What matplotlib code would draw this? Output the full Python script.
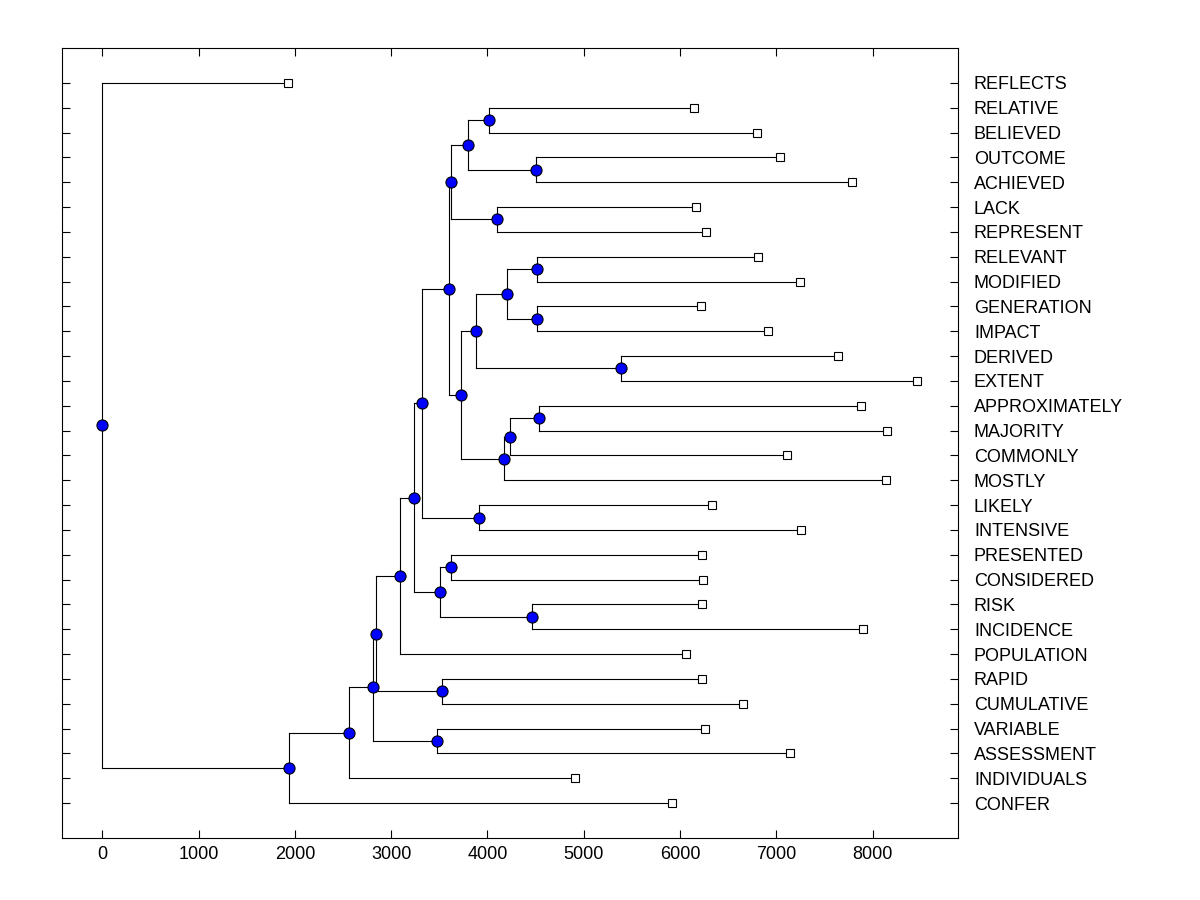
import matplotlib
matplotlib.use('Agg')
import matplotlib.pyplot as plt

plt.rcParams['font.family'] = ['Liberation Sans', 'DejaVu Sans']

# leaves, top to bottom, with their x position
leaves = ['REFLECTS', 'RELATIVE', 'BELIEVED', 'OUTCOME', 'ACHIEVED', 'LACK',
          'REPRESENT', 'RELEVANT', 'MODIFIED', 'GENERATION', 'IMPACT', 'DERIVED',
          'EXTENT', 'APPROXIMATELY', 'MAJORITY', 'COMMONLY', 'MOSTLY', 'LIKELY',
          'INTENSIVE', 'PRESENTED', 'CONSIDERED', 'RISK', 'INCIDENCE', 'POPULATION',
          'RAPID', 'CUMULATIVE', 'VARIABLE', 'ASSESSMENT', 'INDIVIDUALS', 'CONFER']
leaf_x = [1930, 6145, 6800, 7035, 7785, 6165,
          6270, 6810, 7245, 6215, 6915, 7640,
          8460, 7880, 8150, 7110, 8140, 6330,
          7255, 6225, 6240, 6225, 7900, 6060,
          6225, 6655, 6260, 7140, 4910, 5915]

# internal nodes (merged bottom-up): name, first child, second child, x position
node_name = ['n1', 'n2', 'n3', 'n4', 'n5', 'n6', 'n7', 'n8', 'n9', 'n10',
             'n11', 'n12', 'n13', 'n14', 'n15', 'n16', 'n17', 'n18', 'n19', 'n20',
             'n21', 'n22', 'n23', 'n24', 'n25', 'n26', 'n27', 'n28', 'root']
node_a = ['RELATIVE', 'OUTCOME', 'n1', 'LACK', 'n3', 'RELEVANT', 'GENERATION', 'n6', 'DERIVED', 'n8',
          'APPROXIMATELY', 'n11', 'n12', 'n10', 'n5', 'LIKELY', 'n15', 'PRESENTED', 'RISK', 'n18',
          'n17', 'n21', 'RAPID', 'n22', 'VARIABLE', 'n24', 'n26', 'n27', 'REFLECTS']
node_b = ['BELIEVED', 'ACHIEVED', 'n2', 'REPRESENT', 'n4', 'MODIFIED', 'IMPACT', 'n7', 'EXTENT', 'n9',
          'MAJORITY', 'COMMONLY', 'MOSTLY', 'n13', 'n14', 'INTENSIVE', 'n16', 'CONSIDERED', 'INCIDENCE', 'n19',
          'n20', 'POPULATION', 'CUMULATIVE', 'n23', 'ASSESSMENT', 'n25', 'INDIVIDUALS', 'CONFER', 'n28']
node_x = [4015, 4505, 3800, 4100, 3620, 4515, 4515, 4205, 5390, 3880,
          4535, 4235, 4170, 3725, 3600, 3915, 3320, 3620, 4465, 3505,
          3235, 3090, 3530, 2840, 3475, 2810, 2565, 1935, 0]

pos = {}
for i, name in enumerate(leaves):
    pos[name] = (leaf_x[i], i)

fig = plt.figure(figsize=(12, 9), dpi=100)
ax = fig.add_axes([62 / 1200, 62 / 900, (958 - 62) / 1200, (838 - 48) / 900])

nodes_xy = []
for name, a, b, x in zip(node_name, node_a, node_b, node_x):
    xa, ya = pos[a]
    xb, yb = pos[b]
    y = (ya + yb) / 2
    ax.plot([x, x], [ya, yb], color='black', lw=0.8, zorder=1)
    ax.plot([x, xa], [ya, ya], color='black', lw=0.8, zorder=1)
    ax.plot([x, xb], [yb, yb], color='black', lw=0.8, zorder=1)
    pos[name] = (x, y)
    nodes_xy.append((x, y))

ax.plot(leaf_x, range(len(leaves)), 's', ms=6.2, mfc='white', mec='black', mew=0.8,
        ls='none', zorder=3)
ax.plot([p[0] for p in nodes_xy], [p[1] for p in nodes_xy], 'o', ms=8,
        mfc='#0000ff', mec='black', mew=0.8, ls='none', zorder=4)

ax.set_xlim(-418, 8886)
ax.set_ylim(len(leaves) - 1 + 1.404, -1.404)
ax.set_xticks(range(0, 9000, 1000))
ax.set_yticks(range(len(leaves)))
ax.set_yticklabels(leaves)
ax.tick_params(axis='both', direction='in', length=6, width=0.8, labelsize=13)
ax.tick_params(axis='x', top=True, pad=6)
ax.tick_params(axis='y', left=True, right=True, labelleft=False, labelright=True, pad=11.5)
for s in ax.spines.values():
    s.set_linewidth(0.8)

plt.savefig('out.png', dpi=100)
